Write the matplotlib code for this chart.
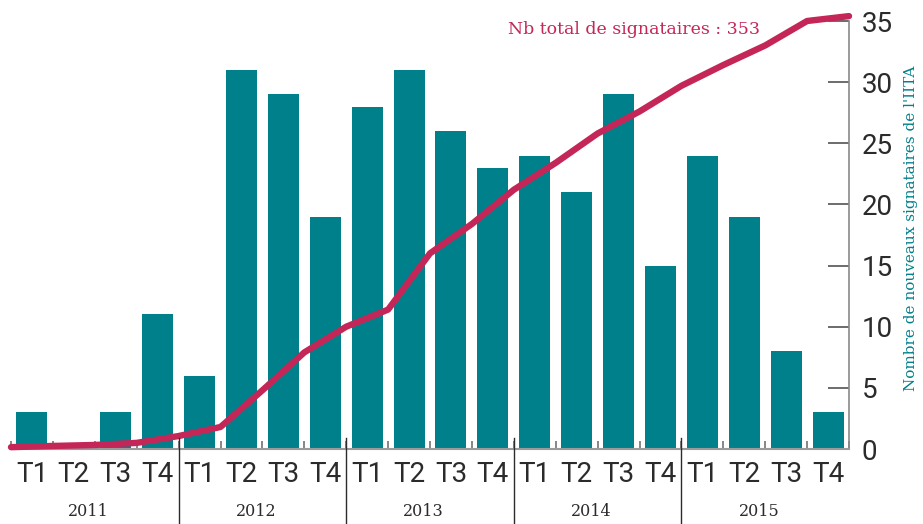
import matplotlib
matplotlib.use("Agg")
import matplotlib.pyplot as plt
import numpy as np

quarters = ["T1", "T2", "T3", "T4"]
years = ["2011", "2012", "2013", "2014", "2015"]
new_signatories = [3, 0, 3, 11, 6, 31, 29, 19, 28, 31, 26, 23, 24, 21, 29, 15, 24, 19, 8, 3]
# cumulative curve (scaled /10), read at the quarter boundaries
cumulative_scaled = [0.15, 0.25, 0.33, 0.5, 1.06, 1.8, 4.8, 7.9, 10.0, 11.4, 16.0,
                     18.4, 21.2, 23.4, 25.8, 27.6, 29.7, 31.4, 33.0, 35.0, 35.4]
title_text = "Nb total de signataires : 353"
ylabel_text = "Nombre de nouveaux signataires de l'IITA"

TEAL = "#00808B"
CRIMSON = "#C42657"
DARK = "#2b2b2b"

fig = plt.figure(figsize=(9.23, 5.24), dpi=100)
ax = fig.add_axes([11/923, 75/524, (849-11)/923, (449-21)/524])

n = len(new_signatories)
xc = np.arange(n)
ax.bar(xc, new_signatories, width=0.74, color=TEAL, zorder=2)

xb = np.arange(len(cumulative_scaled)) - 0.5
ax.plot(xb, cumulative_scaled, color=CRIMSON, lw=4.6, solid_capstyle="round",
        solid_joinstyle="round", zorder=3, clip_on=False)

ax.set_xlim(-0.5, n - 0.5)
ax.set_ylim(0, 35)

for s in ["left", "top"]:
    ax.spines[s].set_visible(False)
ax.spines["right"].set_color("#8a8a8a")
ax.spines["right"].set_linewidth(1.2)
ax.spines["bottom"].set_color("#9a9a9a")
ax.spines["bottom"].set_linewidth(1.5)

ax.yaxis.tick_right()
ax.set_yticks(np.arange(0, 36, 5))
ax.tick_params(axis="y", direction="in", length=15, width=1.1, color="#444444",
               labelsize=20, labelcolor=DARK, pad=9)
for lab in ax.get_yticklabels():
    lab.set_fontfamily("Roboto")

ax.set_xticks(xc)
ax.set_xticklabels([quarters[i % 4] for i in range(n)], fontfamily="Roboto",
                   fontsize=20, color=DARK)
ax.tick_params(axis="x", which="major", length=0, pad=9)
ax.set_xticks(xb, minor=True)
ax.tick_params(axis="x", which="minor", direction="in", length=6, width=1.1,
               color="#666666")

fig.text(911/923, 1 - 228/524, ylabel_text, color=TEAL, fontfamily="DejaVu Serif",
         fontsize=11, rotation=90, ha="center", va="center")

# year separators and labels
trans = ax.get_xaxis_transform()
for k in range(1, len(years)):
    xs = 4 * k - 0.5
    ax.plot([xs, xs], [11/428, -80/428], color=DARK, lw=1.0, transform=trans,
            clip_on=False, zorder=4)
for k, yr in enumerate(years):
    ax.text(4 * k + 1.35, -62/428, yr, transform=trans, ha="center", va="center",
            fontfamily="DejaVu Serif", fontsize=11.5, color=DARK)

fig.text(634/923, 1 - 30/524, title_text, ha="center", va="center",
         fontfamily="DejaVu Serif", fontsize=12.5, color=CRIMSON)

fig.savefig("out.png", dpi=100)
